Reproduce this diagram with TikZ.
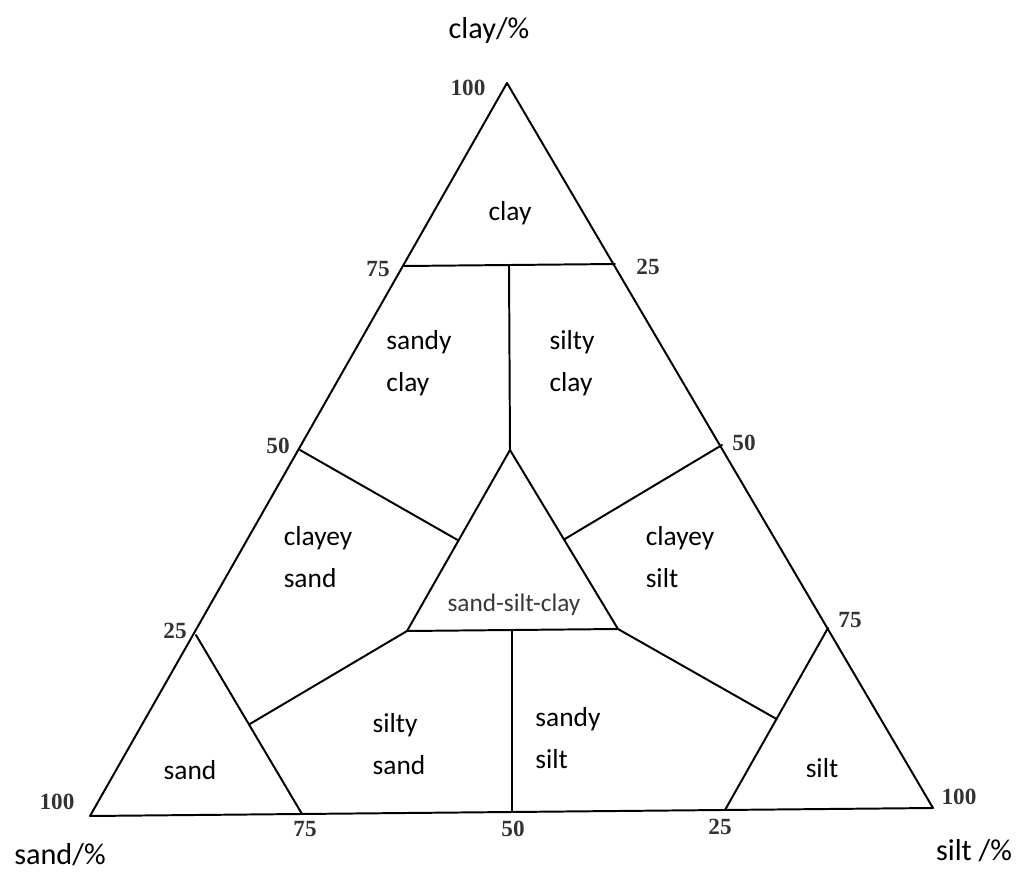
\documentclass[tikz,border=0pt]{standalone}
\usepackage{fontspec}
\setmainfont{Carlito}
\newfontfamily\numfont{Liberation Serif}
\usetikzlibrary{calc}
\begin{document}
\begin{tikzpicture}[
    x=0.025cm, y=-0.025cm,
    edge/.style={line width=1.4pt, line join=round, line cap=round},
    region/.style={font=\fontsize{19.5}{30}\selectfont, align=left, inner sep=0pt},
    axis/.style={font=\fontsize{21.5}{24}\selectfont, inner sep=0pt},
    tick/.style={font=\numfont\bfseries\fontsize{16.5}{18}\selectfont, text=black!80, inner sep=0pt}
]
\useasboundingbox (0,0) rectangle (1022,875);
% corners of the triangle
\coordinate (sandc) at (90,816);
\coordinate (siltc) at (933,808);
\coordinate (clayc) at (507,83);
% points on the sides
\coordinate (l75) at (404,266);
\coordinate (l50) at (300,450);
\coordinate (l25) at (196,635);
\coordinate (r25) at (615,264);
\coordinate (r50) at (722,445);
\coordinate (r75) at (828,628);
\coordinate (b75) at (302,814);
\coordinate (b50) at (512,812);
\coordinate (b25) at (725,810);
% inner triangle
\coordinate (itop) at (510,450);
\coordinate (ileft) at (407,631);
\coordinate (iright) at (618,629);
\coordinate (cmid) at (509,265);
\coordinate (bmid) at (512,630);

\draw[edge] (sandc) -- (siltc) -- (clayc) -- cycle;
\draw[edge] (l75) -- (r25);
\draw[edge] (cmid) -- (itop);
\draw[edge] (itop) -- (ileft) -- (iright) -- cycle;
\draw[edge] (bmid) -- (b50);
\draw[edge] (l50) -- ($(itop)!0.5!(ileft)$);
\draw[edge] (r50) -- ($(itop)!0.5!(iright)$);
\draw[edge] (l25) -- (b75);
\draw[edge] (r75) -- (b25);
\draw[edge] (ileft) -- ($(l25)!0.5!(b75)$);
\draw[edge] (iright) -- ($(r75)!0.5!(b25)$);

% tick values
\foreach \x/\y/\t in {468/88/100, 378/269/75, 278/446/50, 175/631/25, 57/802/100,
    648/267/25, 744/443/50, 850/620/75, 959/797/100,
    305/829/75, 513/829/50, 720/827/25} {
    \node[tick] at (\x,\y) {\t};
}

% axis names
\node[axis] (claylbl) at (489,30) {clay/\%};
\node[axis] (sandlbl) at (60,855) {sand/\%};
\node[axis] (siltlbl) at (974,851) {silt /\%};

% regions
\node[region] (clay) at (510,213) {clay};
\node[region] (sandyclay) at (419,363) {sandy\\clay};
\node[region] (siltyclay) at (572,363) {silty\\clay};
\node[region] (clayeysand) at (318,557) {clayey\\sand};
\node[region] (clayeysilt) at (680,557) {clayey\\silt};
\node[font=\fontsize{18}{20}\selectfont, text=black!78, inner sep=0pt] (ssc) at (514,605) {sand-silt-clay};
\node[region] (siltysand) at (399,744) {silty\\sand};
\node[region] (sandysilt) at (568,738) {sandy\\silt};
\node[region] (sand) at (190,770) {sand};
\node[region] (silt) at (822,768) {silt};
\end{tikzpicture}
\end{document}
